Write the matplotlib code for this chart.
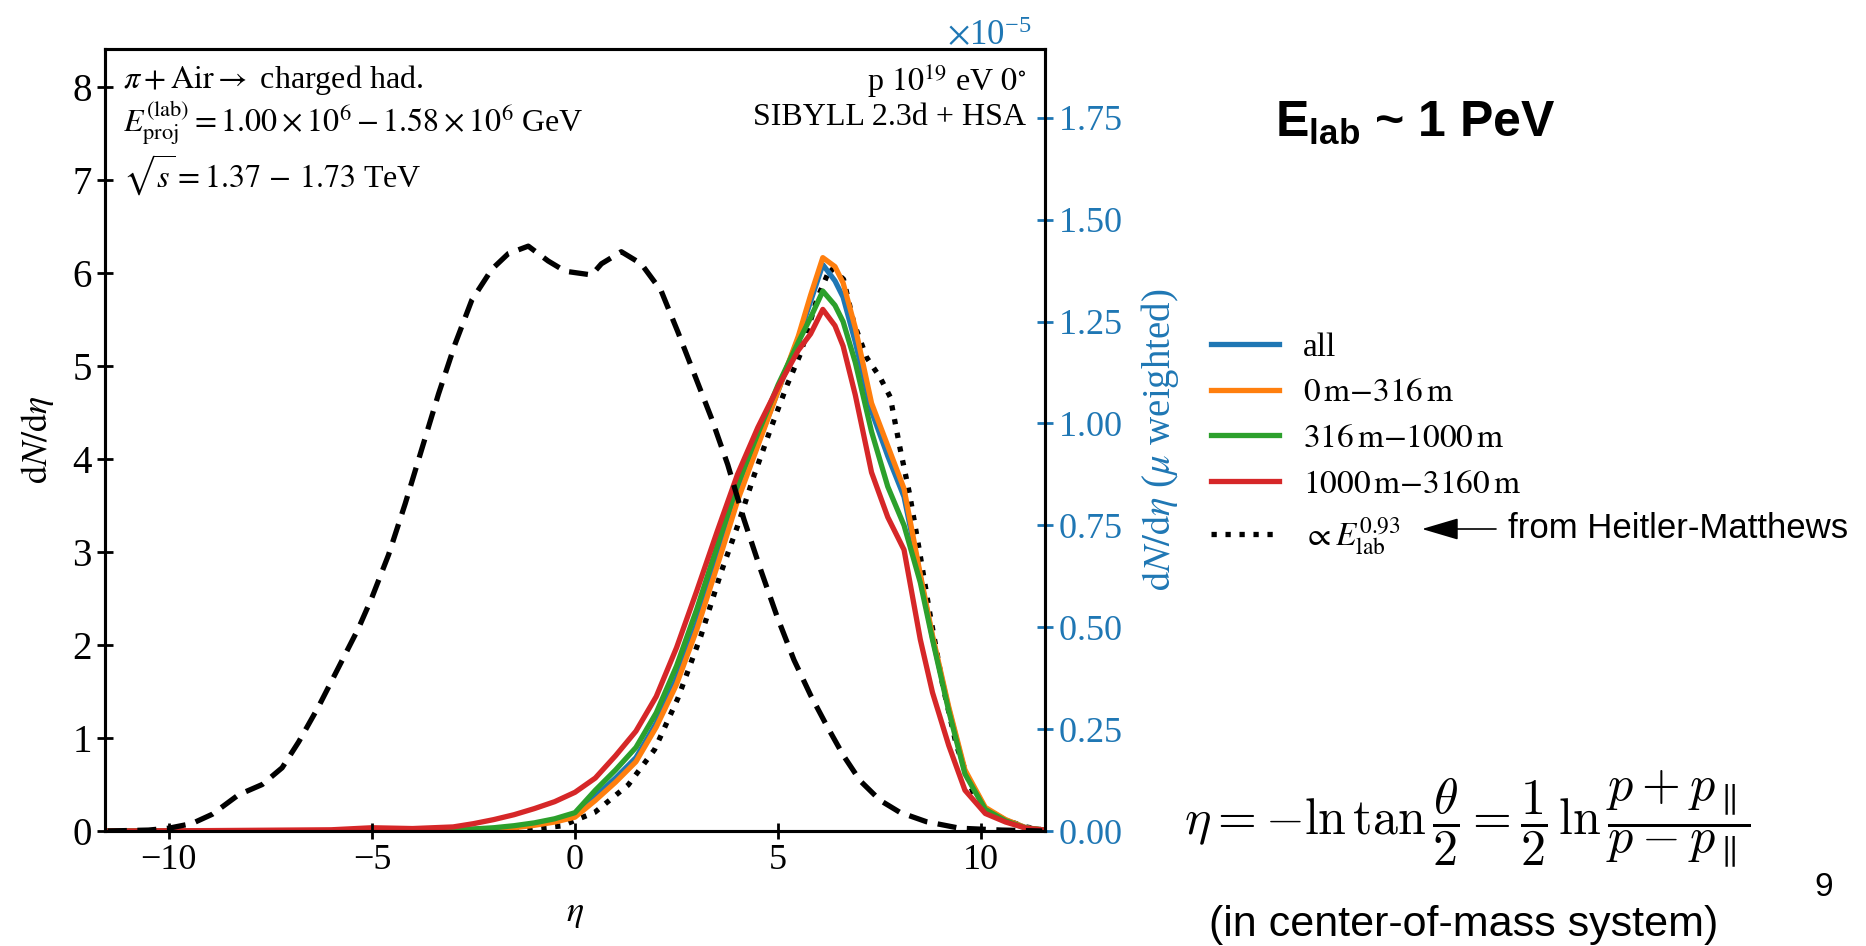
import matplotlib
matplotlib.use("Agg")
import matplotlib.pyplot as plt
from matplotlib.ticker import MultipleLocator

plt.rcParams["font.family"] = ["Liberation Serif", "DejaVu Serif"]
plt.rcParams["mathtext.fontset"] = "stix"
# sans-serif bold maths only for the slide title (math_fontfamily="custom")
plt.rcParams["mathtext.rm"] = "Liberation Sans"
plt.rcParams["mathtext.bf"] = "Liberation Sans:bold"
plt.rcParams["mathtext.it"] = "Liberation Sans:italic"

# pi + Air -> charged hadrons, dN/deta (left axis)
eta_had = [-11.5, -10.5, -10.0, -9.43, -8.93, -8.28, -7.7, -7.21, -6.8, -6.31,
           -5.82, -5.33, -5.0, -4.59, -4.18, -3.77, -3.36, -2.95, -2.54, -2.05,
           -1.64, -1.15, -0.66, -0.24, 0.41, 0.65, 1.14, 1.63, 2.12, 2.53,
           2.94, 3.35, 3.76, 4.16, 4.57, 4.98, 5.39, 5.80, 6.20, 6.61,
           7.02, 7.51, 8.0, 8.65, 9.47, 10.5, 11.5]
dndeta_had = [0.0, 0.01, 0.03, 0.08, 0.18, 0.39, 0.50, 0.68, 0.96, 1.34,
              1.76, 2.18, 2.51, 2.97, 3.52, 4.11, 4.70, 5.24, 5.71, 6.04,
              6.21, 6.29, 6.13, 6.02, 5.98, 6.10, 6.23, 6.10, 5.81, 5.37,
              4.91, 4.45, 3.94, 3.35, 2.81, 2.30, 1.84, 1.46, 1.13, 0.81,
              0.54, 0.33, 0.20, 0.10, 0.03, 0.01, 0.0]

# muon weighted dN/deta (right axis, units of 1e-5)
eta_mu = [-11.5, -9.0, -6.0, -5.0, -4.0, -3.0, -2.5, -2.0, -1.5, -1.0, -0.5,
          0.0, 0.5, 1.0, 1.5, 2.0, 2.5, 3.0, 3.5, 4.0, 4.5, 5.0, 5.5, 5.8,
          6.1, 6.4, 6.6, 6.9, 7.3, 7.7, 8.1, 8.5, 8.8, 9.2, 9.6, 10.1, 10.6,
          11.1, 11.5]
mu_all = [0.0, 0.0, 0.0, 0.0, 0.0, 0.002, 0.004, 0.006, 0.010, 0.017, 0.027,
          0.040, 0.085, 0.13, 0.18, 0.265, 0.375, 0.51, 0.665, 0.82, 0.95,
          1.08, 1.21, 1.30, 1.39, 1.35, 1.31, 1.20, 1.03, 0.92, 0.82, 0.625,
          0.475, 0.30, 0.145, 0.055, 0.027, 0.008, 0.003]
mu_0_316 = [0.0, 0.0, 0.0, 0.0, 0.0, 0.001, 0.003, 0.004, 0.008, 0.014, 0.022,
            0.034, 0.075, 0.12, 0.17, 0.255, 0.36, 0.495, 0.65, 0.81, 0.945,
            1.08, 1.215, 1.315, 1.407, 1.385, 1.345, 1.235, 1.05, 0.945, 0.84,
            0.63, 0.48, 0.305, 0.15, 0.058, 0.028, 0.008, 0.003]
mu_316_1000 = [0.0, 0.0, 0.0, 0.001, 0.002, 0.003, 0.005, 0.008, 0.013, 0.020,
               0.030, 0.045, 0.10, 0.15, 0.205, 0.29, 0.405, 0.545, 0.70, 0.85,
               0.975, 1.095, 1.20, 1.26, 1.325, 1.29, 1.25, 1.15, 0.98, 0.845,
               0.75, 0.61, 0.47, 0.295, 0.14, 0.053, 0.025, 0.007, 0.003]
mu_1000_3160 = [0.0, 0.001, 0.003, 0.008, 0.006, 0.010, 0.018, 0.028, 0.040,
                0.055, 0.072, 0.095, 0.13, 0.185, 0.245, 0.33, 0.45, 0.59,
                0.735, 0.875, 0.99, 1.09, 1.18, 1.22, 1.28, 1.24, 1.19, 1.07,
                0.88, 0.77, 0.69, 0.47, 0.34, 0.21, 0.10, 0.043, 0.022, 0.007,
                0.003]

# Heitler-Matthews estimate, proportional to E_lab^0.93 (right axis, 1e-5)
eta_hm = [-11.5, -3.0, -1.5, -0.33, 0.49, 1.31, 1.96, 2.53, 3.10, 3.59, 4.0,
          4.41, 4.82, 5.22, 5.55, 5.96, 6.29, 6.61, 6.86, 7.18, 7.51, 7.76,
          8.0, 8.24, 8.49, 8.73, 9.06, 9.39, 9.80, 10.29, 11.1, 11.5]
mu_hm = [0.0, 0.0, 0.001, 0.0125, 0.046, 0.113, 0.20, 0.325, 0.479, 0.633,
         0.748, 0.873, 0.988, 1.094, 1.171, 1.306, 1.383, 1.354, 1.248, 1.162,
         1.113, 1.065, 0.94, 0.825, 0.681, 0.537, 0.354, 0.21, 0.094, 0.037,
         0.01, 0.003]

W, H = 1866, 946
fig = plt.figure(figsize=(W / 100, H / 100), dpi=100)
ax = fig.add_axes([105 / W, 1 - 831 / H, (1045 - 105) / W, (831 - 49) / H])
ax2 = ax.twinx()
ax.set_zorder(ax2.get_zorder() + 1)
ax.patch.set_visible(False)

ax.plot(eta_had, dndeta_had, color="k", ls=(0, (3.6, 2.0)), lw=3.8)

scale = 1e-5
ax2.plot(eta_hm, [v * scale for v in mu_hm], color="k", ls=":", lw=3.8,
         label=r"$\propto E_{\rm lab}^{0.93}$")
ax2.plot(eta_mu, [v * scale for v in mu_all], color="C0", lw=3.8, label="all")
ax2.plot(eta_mu, [v * scale for v in mu_0_316], color="C1", lw=3.8,
         label=r"$0\,\mathrm{m}{-}316\,\mathrm{m}$")
ax2.plot(eta_mu, [v * scale for v in mu_316_1000], color="C2", lw=3.8,
         label=r"$316\,\mathrm{m}{-}1000\,\mathrm{m}$")
ax2.plot(eta_mu, [v * scale for v in mu_1000_3160], color="C3", lw=3.8,
         label=r"$1000\,\mathrm{m}{-}3160\,\mathrm{m}$")

ax.set_xlim(-11.57, 11.57)
ax.set_ylim(0, 8.41)
ax2.set_ylim(0, 1.919e-5)
ax.xaxis.set_major_locator(MultipleLocator(5))
ax.yaxis.set_major_locator(MultipleLocator(1))
ax2.yaxis.set_major_locator(MultipleLocator(0.25e-5))
ax2.ticklabel_format(axis="y", style="sci", scilimits=(0, 0),
                     useMathText=True)

for a in (ax, ax2):
    for s in a.spines.values():
        s.set_linewidth(2.2)
ax.tick_params(labelsize=26, direction="inout", length=12, width=2)
ax.tick_params(axis="y", labelsize=28)
ax2.tick_params(labelsize=26, direction="inout", length=12, width=2,
                colors="C0")
offset = ax2.yaxis.get_offset_text()
offset.set_fontsize(25)
offset.set_color("C0")
offset.set_x(0.985)

ax.set_xlabel(r"$\eta$", fontsize=26, labelpad=14)
ax.set_ylabel(r"$\mathrm{d}N/\mathrm{d}\eta$", fontsize=26, labelpad=12)
ax2.set_ylabel(r"$\mathrm{d}N/\mathrm{d}\eta$ ($\mu$ weighted)", fontsize=28,
               color="C0", labelpad=12)

ax.text(0.019, 0.960, r"$\pi + \mathrm{Air} \rightarrow$ charged had.",
        transform=ax.transAxes, fontsize=23, va="center")
ax.text(0.019, 0.906,
        r"$E_{\rm proj}^{\rm (lab)} = 1.00 \times 10^{6} - 1.58 \times 10^{6}$ GeV",
        transform=ax.transAxes, fontsize=23, va="center")
ax.text(0.019, 0.839, r"$\sqrt{s} = 1.37\,-\,1.73$ TeV",
        transform=ax.transAxes, fontsize=23, va="center")
ax.text(0.98, 0.959, r"p $10^{19}$ eV $0^{\circ}$", transform=ax.transAxes,
        fontsize=23, va="center", ha="right")
ax.text(0.98, 0.912, "SIBYLL 2.3d + HSA", transform=ax.transAxes,
        fontsize=23, va="center", ha="right")

handles, labels = ax2.get_legend_handles_labels()
order = [1, 2, 3, 4, 0]
fig.legend([handles[i] for i in order], [labels[i] for i in order],
           loc="upper left", bbox_to_anchor=(1211 / W, 1 - 332 / H),
           frameon=False, fontsize=24, borderpad=0, borderaxespad=0,
           handlelength=2.05, handletextpad=0.72, labelspacing=0.46)

fig.text(1415 / W, 1 - 123 / H, r"$\mathbf{E}_{\mathbf{lab}}$ ~ 1 PeV",
         fontsize=36, family="Liberation Sans", weight="bold",
         math_fontfamily="custom", ha="center", va="center")

ax.annotate("", xy=(1422 / W, 1 - 529 / H), xytext=(1496 / W, 1 - 529 / H),
            xycoords="figure fraction", textcoords="figure fraction",
            arrowprops=dict(arrowstyle="-|>,head_length=1.15,head_width=0.34",
                            mutation_scale=20, color="k", lw=1.2,
                            shrinkA=0, shrinkB=0))
fig.text(1508 / W, 1 - 529 / H, "from Heitler-Matthews", fontsize=25,
         family="Liberation Sans", va="center", ha="left")

fig.text(1467 / W, 1 - 820 / H,
         r"$\eta = -\ln\tan\dfrac{\theta}{2} = \dfrac{1}{2}\,\ln\dfrac{p+p_{\parallel}}{p-p_{\parallel}}$",
         fontsize=36, math_fontfamily="cm", ha="center", va="center")
fig.text(1464 / W, 1 - 925 / H, "(in center-of-mass system)", fontsize=31,
         family="Liberation Sans", ha="center", va="center")
fig.text(1824 / W, 1 - 887 / H, "9", fontsize=24, family="Liberation Sans",
         ha="center", va="center")

fig.savefig("out.png", dpi=100)
